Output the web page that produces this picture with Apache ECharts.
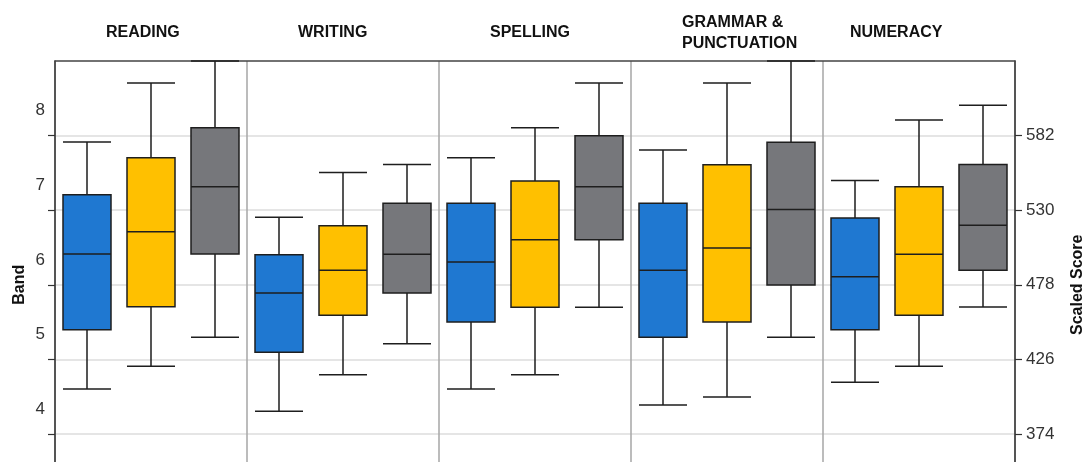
<!DOCTYPE html>
<html>
<head>
<meta charset="utf-8">
<script src="https://cdn.jsdelivr.net/npm/echarts@6/dist/echarts.min.js"></script>
<style>
html,body{margin:0;padding:0;background:#fff;}
#chart{width:1083px;height:462px;}
</style>
</head>
<body>
<div id="chart"></div>
<script>
// Subjects (top category labels)
const subjects = ['READING', 'WRITING', 'SPELLING', 'GRAMMAR &\nPUNCTUATION', 'NUMERACY'];

// Box statistics in scaled score units: [min, Q1, median, Q3, max], one row per subject
const blueStats = [
  [405.4, 446.7, 499.5, 540.7, 577.6],
  [389.8, 430.9, 472.3, 499.0, 525.0],
  [405.4, 452.1, 493.9, 534.8, 566.5],
  [394.2, 441.4, 488.1, 534.8, 572.0],
  [410.0, 446.7, 483.5, 524.6, 550.6]
];
const yellowStats = [
  [421.1, 462.6, 514.9, 566.5, 618.7],
  [415.3, 456.7, 488.1, 519.2, 556.2],
  [415.3, 462.3, 509.3, 550.4, 587.4],
  [399.8, 452.1, 503.7, 561.6, 618.7],
  [421.1, 456.7, 499.2, 546.4, 592.9]
];
const grayStats = [
  [441.4, 499.5, 546.4, 587.4, 634.0],
  [436.8, 472.3, 499.2, 534.8, 561.8],
  [462.3, 509.3, 546.4, 581.8, 618.7],
  [441.4, 477.9, 530.4, 577.3, 634.0],
  [462.5, 488.1, 519.5, 561.8, 603.1]
];

// Scaled score tick labels (right axis) and band labels (left axis)
const scaledTicks = [374, 426, 478, 530, 582];
const bandLabels = ['4', '5', '6', '7', '8'];

const seriesColors = ['#1f78d1', '#ffc000', '#76777b'];

// band-boundary units: scaled = 166 + 52 * u
const toU = s => (s - 166) / 52;
const tickU = [3, 4, 5, 6, 7, 8];

const groups = [blueStats, yellowStats, grayStats];
const slotCats = [];
const boxData = [];
subjects.forEach((sub, i) => {
  groups.forEach((g, k) => {
    slotCats.push(sub + '-' + k);
    boxData.push({
      value: g[i].map(toU),
      itemStyle: { color: seriesColors[k] }
    });
  });
});

const richKey = ['a', 'a', 'a', 'g', 'n'];

const chart = echarts.init(document.getElementById('chart'), null, { renderer: 'canvas' });
const FF = 'Liberation Sans, Arial, sans-serif';

chart.setOption({
  animation: false,
  backgroundColor: '#fff',
  grid: {
    left: 55, right: 68, top: 61, bottom: -46.5,
    containLabel: false,
    outerBoundsMode: 'none'
  },
  xAxis: [
    {
      type: 'category',
      data: slotCats,
      show: false,
      boundaryGap: true
    },
    {
      type: 'category',
      position: 'top',
      data: subjects,
      boundaryGap: true,
      axisLine: { show: true, lineStyle: { color: '#444', width: 1.5 } },
      axisTick: { show: false },
      splitLine: { show: true, lineStyle: { color: '#a6a6a6', width: 1.5 } },
      axisLabel: {
        show: true,
        interval: 0,
        margin: 28,
        verticalAlign: 'middle',
        color: '#111',
        fontWeight: 'bold',
        fontSize: 16,
        fontFamily: FF,
        lineHeight: 21,
        formatter: (v, i) => v.split('\n').map(s => '{' + richKey[i] + '|' + s + '}').join('\n'),
        rich: {
          a: { width: 90, align: 'left', fontWeight: 'bold', fontSize: 16, color: '#111', lineHeight: 21, fontFamily: FF },
          g: { width: 130, align: 'left', padding: [0, 0, 0, 40], fontWeight: 'bold', fontSize: 16, color: '#111', lineHeight: 21, fontFamily: FF },
          n: { width: 138, align: 'left', fontWeight: 'bold', fontSize: 16, color: '#111', lineHeight: 21, fontFamily: FF }
        }
      }
    }
  ],
  yAxis: [
    {
      type: 'value',
      position: 'left',
      min: 3, max: 9, interval: 1,
      axisLine: { show: true, lineStyle: { color: '#333', width: 1.5 } },
      axisTick: { show: true, length: 7, customValues: tickU, lineStyle: { color: '#333', width: 1.2 } },
      axisLabel: { show: false },
      splitLine: { show: true, lineStyle: { color: '#dcdcdc', width: 1.5 } },
      name: 'Band',
      nameLocation: 'middle',
      nameGap: 27,
      nameRotate: 90,
      nameTextStyle: { fontWeight: 'bold', fontSize: 16, color: '#111', fontFamily: FF }
    },
    {
      type: 'value',
      position: 'left',
      min: 3, max: 9, interval: 0.5,
      axisLine: { show: false },
      axisTick: { show: false },
      splitLine: { show: false },
      axisLabel: {
        show: true,
        margin: 10,
        fontSize: 17,
        color: '#333',
        fontFamily: FF,
        verticalAlign: 'top',
        lineHeight: 25,
        formatter: v => {
          const idx = Math.round(v - 0.5) - 4;
          return (Math.abs((v % 1) - 0.5) < 1e-6 && idx >= 0 && idx < bandLabels.length) ? bandLabels[idx] : '';
        }
      }
    },
    {
      type: 'value',
      position: 'right',
      min: 3, max: 9, interval: 1,
      axisLine: { show: true, lineStyle: { color: '#333', width: 1.5 } },
      axisTick: { show: true, length: 7, customValues: tickU, lineStyle: { color: '#333', width: 1.2 } },
      splitLine: { show: false },
      axisLabel: {
        show: true,
        margin: 11,
        fontSize: 17,
        color: '#333',
        fontFamily: FF,
        formatter: v => {
          const idx = Math.round(v) - 4;
          return (idx >= 0 && idx < scaledTicks.length) ? String(scaledTicks[idx]) : '';
        }
      },
      name: 'Scaled Score',
      nameLocation: 'middle',
      nameGap: 55,
      nameRotate: 90,
      nameTextStyle: { fontWeight: 'bold', fontSize: 16, color: '#111', fontFamily: FF }
    }
  ],
  series: [
    {
      type: 'boxplot',
      xAxisIndex: 0,
      yAxisIndex: 0,
      boxWidth: [48, 48],
      itemStyle: { borderColor: '#1e1e1e', borderWidth: 1.5 },
      emphasis: { disabled: true },
      data: boxData
    }
  ]
});
</script>
</body>
</html>
